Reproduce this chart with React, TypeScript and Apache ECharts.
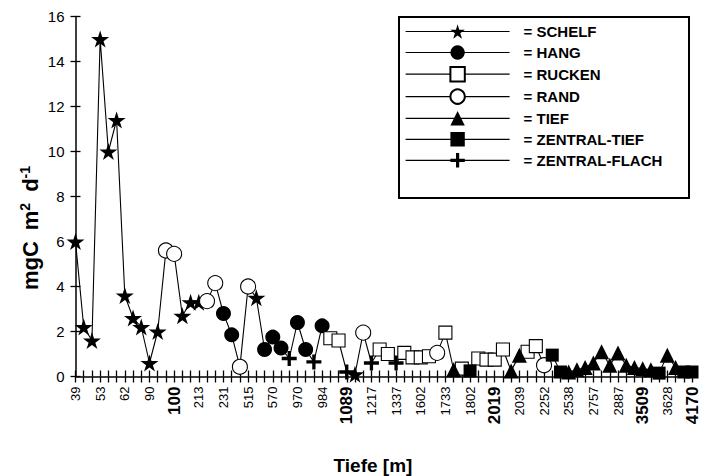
import React, { useEffect, useRef } from "react";
import * as echarts from "echarts";

// Labelled depths (every third station on the axis)
const tickDepths = [
  "39", "53", "62", "90", "100", "213", "231", "515", "570", "970", "984", "1089", "1217",
  "1337", "1602", "1733", "1802", "2019", "2039", "2252", "2538", "2757", "2887", "3509", "3628", "4170",
];
const bigDepths = ["100", "1089", "2019", "3509", "4170"];

// Primary production values (mgC m-2 d-1), one per station, in axis order
const values = [
  6.0, 2.2, 1.6, 15.0, 10.0, 11.4, 3.6, 2.6, 2.2, 0.6,
  2.0, 5.6, 5.45, 2.7, 3.3, 3.3, 3.35, 4.15, 2.8, 1.85,
  0.43, 4.0, 3.5, 1.2, 1.75, 1.27, 0.8, 2.4, 1.2, 0.65,
  2.25, 1.7, 1.6, 0.2, 0.1, 1.95, 0.6, 1.2, 1.0, 0.6,
  1.05, 0.85, 0.85, 0.9, 1.05, 1.95, 0.3, 0.35, 0.25, 0.8,
  0.75, 0.75, 1.2, 0.25, 0.95, 1.1, 1.35, 0.5, 0.95, 0.2,
  0.2, 0.3, 0.4, 0.6, 1.1, 0.5, 1.05, 0.5, 0.4, 0.35,
  0.3, 0.15, 0.95, 0.4, 0.2, 0.2,
];

// Station type for each value
const types = [
  "S", "S", "S", "S", "S", "S", "S", "S", "S", "S",
  "S", "R", "R", "S", "S", "S", "R", "R", "H", "H",
  "R", "R", "S", "H", "H", "H", "ZF", "H", "H", "ZF",
  "H", "Ru", "Ru", "ZF", "S", "R", "ZF", "Ru", "Ru", "ZF",
  "Ru", "Ru", "Ru", "Ru", "R", "Ru", "T", "Ru", "ZT", "Ru",
  "Ru", "Ru", "Ru", "T", "T", "Ru", "Ru", "R", "ZT", "ZT",
  "T", "T", "T", "T", "T", "T", "T", "T", "T", "T",
  "T", "ZT", "T", "T", "ZT", "ZT",
];

const typeKeys = ["S", "H", "Ru", "R", "T", "ZT", "ZF"];
const typeNames = ["SCHELF", "HANG", "RUCKEN", "RAND", "TIEF", "ZENTRAL-TIEF", "ZENTRAL-FLACH"];

const STAR =
  "path://M50,0 L61,35 L98,35 L68,57 L79,91 L50,70 L21,91 L32,57 L2,35 L39,35 Z";
const PLUS =
  "path://M39,0 H61 V39 H100 V61 H61 V100 H39 V61 H0 V39 H39 Z";

const symbolStyles: Record<string, { symbol: string; size: number; fill: string }> = {
  S: { symbol: STAR, size: 18, fill: "#000" },
  H: { symbol: "circle", size: 15, fill: "#000" },
  Ru: { symbol: "rect", size: 13, fill: "#fff" },
  R: { symbol: "circle", size: 15, fill: "#fff" },
  T: { symbol: "triangle", size: 15, fill: "#000" },
  ZT: { symbol: "rect", size: 13, fill: "#000" },
  ZF: { symbol: PLUS, size: 15, fill: "#000" },
};

const FONT = "'Liberation Sans', Arial, Helvetica, sans-serif";

export default function App() {
  const ref = useRef<HTMLDivElement>(null);

  useEffect(() => {
    document.body.style.margin = "0";
    if (!ref.current) return;
    const chart = echarts.init(ref.current, undefined, { renderer: "svg" });

    const categories = tickDepths.flatMap((d, k) =>
      k < tickDepths.length - 1 ? [d, "", ""] : [d]
    );

    const grid = { left: 75.5, top: 16.5, width: 616.5, height: 360 };

    const typeSeries = typeKeys.map((key, k) => {
      const st = symbolStyles[key];
      return {
        name: typeNames[k],
        type: "line",
        xAxisIndex: 0,
        yAxisIndex: 0,
        data: values.map((v, i) => (types[i] === key ? v : null)),
        symbol: st.symbol,
        symbolSize: st.size,
        symbolKeepAspect: true,
        showSymbol: true,
        showAllSymbol: true,
        connectNulls: false,
        lineStyle: { color: "#000", width: 1, opacity: 0 },
        itemStyle: { color: st.fill, borderColor: "#000", borderWidth: st.fill === "#fff" ? 1.1 : 0 },
        emphasis: { disabled: true },
        z: 3,
      };
    });

    const bold = { fontWeight: "bold", fontFamily: FONT, fill: "#000" };

    chart.setOption({
      animation: false,
      backgroundColor: "#fff",
      textStyle: { fontFamily: FONT },
      grid: [grid, grid],
      xAxis: [
        {
          type: "category",
          gridIndex: 0,
          data: categories,
          boundaryGap: false,
          axisLine: { show: true, lineStyle: { color: "#000", width: 1.5 } },
          axisTick: { show: true, interval: 0, length: 6, inside: false, lineStyle: { color: "#000", width: 1.3 } },
          axisLabel: {
            interval: 2,
            rotate: 90,
            margin: 10,
            color: "#000",
            fontFamily: FONT,
            fontSize: 13,
            formatter: (v: string) => (bigDepths.includes(v) ? `{big|${v}}` : v),
            rich: { big: { fontSize: 17, fontWeight: "bold", fontFamily: FONT, color: "#000" } },
          },
          splitLine: { show: false },
        },
        {
          type: "category",
          gridIndex: 1,
          data: categories,
          boundaryGap: false,
          axisLine: { show: false },
          axisTick: { show: true, interval: 0, length: 6, inside: true, lineStyle: { color: "#000", width: 1.3 } },
          axisLabel: { show: false },
          splitLine: { show: false },
        },
      ],
      yAxis: [
        {
          type: "value",
          gridIndex: 0,
          min: 0,
          max: 16,
          interval: 2,
          axisLine: { show: true, lineStyle: { color: "#000", width: 1.5 } },
          axisTick: { show: true, length: 5, inside: false, lineStyle: { color: "#000", width: 1.3 } },
          axisLabel: { color: "#000", fontFamily: FONT, fontSize: 15, margin: 11 },
          splitLine: { show: false },
        },
        {
          type: "value",
          gridIndex: 1,
          min: 0,
          max: 16,
          interval: 2,
          axisLine: { show: false },
          axisTick: { show: true, length: 5, inside: true, lineStyle: { color: "#000", width: 1.3 } },
          axisLabel: { show: false },
          splitLine: { show: false },
        },
      ],
      legend: {
        orient: "vertical",
        left: 405,
        top: 24,
        padding: 0,
        itemWidth: 104,
        itemHeight: 18,
        itemGap: 6,
        data: typeNames,
        selectedMode: false,
        lineStyle: { color: "#000", width: 1.2, opacity: 1 },
        formatter: (name: string) => `{t|= ${name}}`,
        textStyle: {
          color: "#000",
          fontFamily: FONT,
          fontSize: 15,
          fontWeight: "bold",
          rich: { t: { padding: [0, 0, 0, 9], fontSize: 15, fontWeight: "bold", fontFamily: FONT, color: "#000" } },
        },
      },
      graphic: [
        {
          type: "rect",
          shape: { x: 399, y: 17, width: 290, height: 181 },
          style: { fill: "none", stroke: "#000", lineWidth: 2 },
          z: 10,
        },
        {
          type: "text",
          x: 30,
          y: 228,
          rotation: Math.PI / 2,
          style: {
            text: "{b|mgC}{g|m}{s|2}{g|d}{s|-1}",
            align: "center",
            verticalAlign: "middle",
            rich: {
              b: { ...bold, fontSize: 22, lineHeight: 24, verticalAlign: "middle" },
              g: { ...bold, fontSize: 22, lineHeight: 24, verticalAlign: "middle", padding: [0, 0, 0, 11] },
              s: { ...bold, fontSize: 14, lineHeight: 14, verticalAlign: "top" },
            },
          },
        },
        {
          type: "text",
          x: 373,
          y: 465,
          style: {
            text: "Tiefe [m]",
            align: "center",
            verticalAlign: "middle",
            fontSize: 19,
            ...bold,
          },
        },
      ],
      series: [
        {
          name: "Alle",
          type: "line",
          xAxisIndex: 0,
          yAxisIndex: 0,
          data: values,
          symbol: "none",
          lineStyle: { color: "#000", width: 1.1 },
          emphasis: { disabled: true },
          z: 2,
        },
        ...typeSeries,
      ],
    });

    return () => chart.dispose();
  }, []);

  return (
    <div
      ref={ref}
      style={{ width: 702, height: 476, position: "absolute", left: 0, top: 0, background: "#fff" }}
    />
  );
}
